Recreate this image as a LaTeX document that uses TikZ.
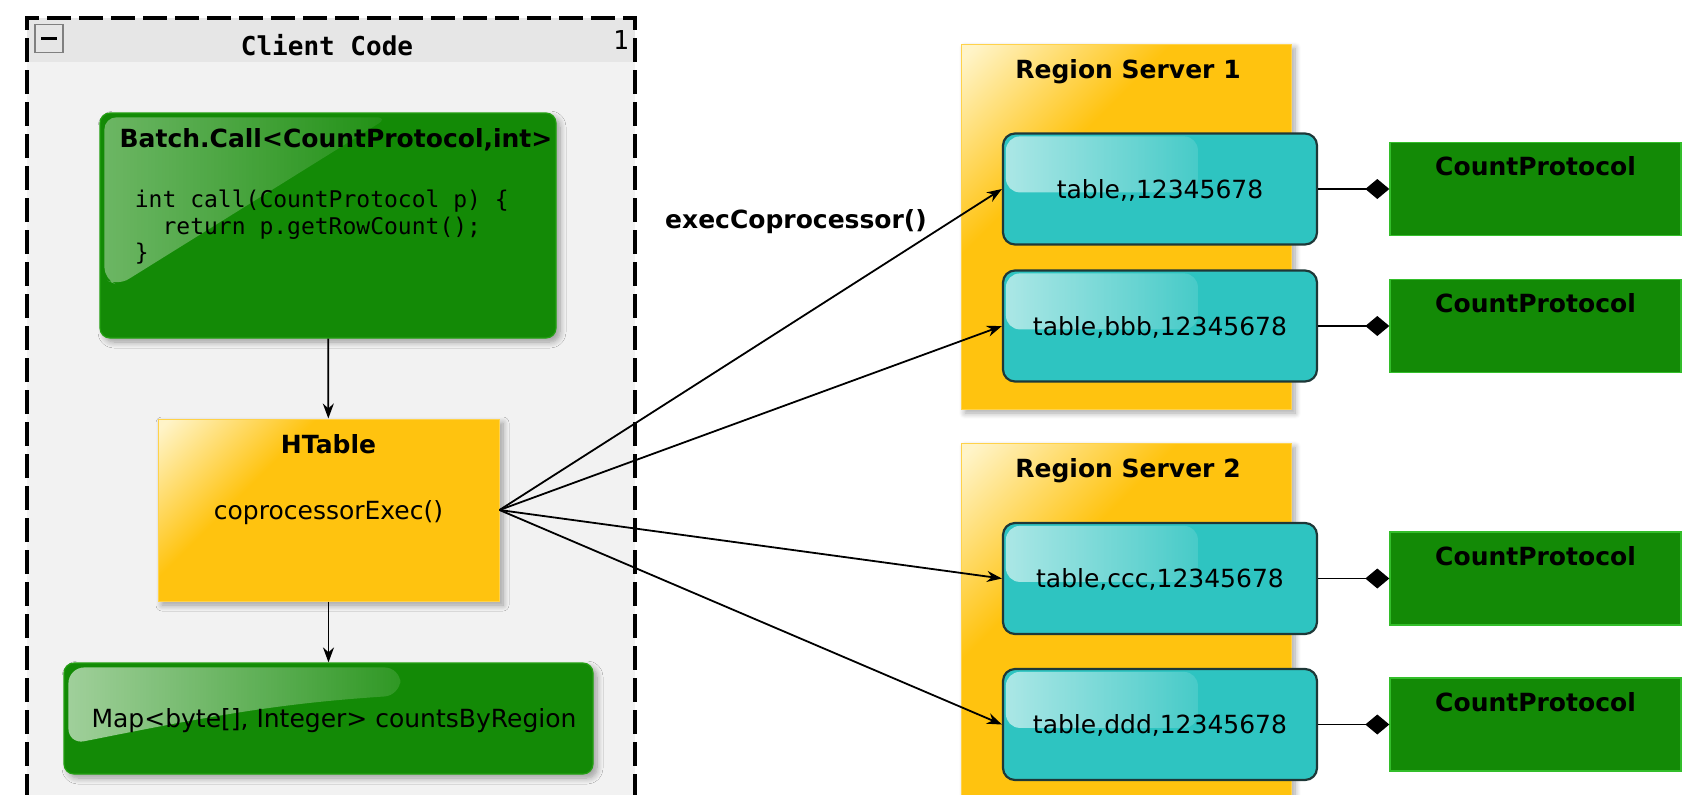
\documentclass[tikz,border=0pt]{standalone}
\usepackage{fontspec}
\setmainfont{DejaVu Sans}
\setmonofont{DejaVu Sans Mono}
\usetikzlibrary{arrows.meta,shadows.blur,fadings}

\definecolor{boxgreen}{HTML}{138A06}
\definecolor{greenedge}{HTML}{23A012}
\definecolor{protoedge}{HTML}{33BE2A}
\definecolor{rsyellow}{HTML}{FFC30F}
\definecolor{paleyellow}{HTML}{FFF4C8}
\definecolor{rsedge}{HTML}{FFD24A}
\definecolor{regcyan}{HTML}{2EC4C1}
\definecolor{cyanedge}{HTML}{1E3838}
\definecolor{framegrey}{HTML}{F2F2F2}
\definecolor{headgrey}{HTML}{E6E6E6}

\pgfdeclareverticalshading{sunglow}{100bp}{color(0bp)=(rsyellow); color(64bp)=(rsyellow); color(84bp)=(paleyellow); color(100bp)=(paleyellow)}
\tikzfading[name=glossfade, left color=transparent!40, right color=transparent!88]
\tikzfading[name=softgloss, left color=transparent!62, right color=transparent!94]

\tikzset{
  every node/.style={font=\fontsize{12.5}{15}\selectfont},
  txt/.style={inner sep=0pt, text height=9.1pt, text depth=0pt},
  bold txt/.style={txt, font=\fontsize{12.5}{15}\selectfont\bfseries},
  shadowed/.style={blur shadow={shadow xshift=2pt, shadow yshift=-2pt, shadow blur radius=3pt,
    shadow blur steps=8, shadow opacity=35}},
  greenbox/.style={shadowed, draw=greenedge, fill=boxgreen, rounded corners=5pt, line width=0.6pt},
  yellowbox/.style={shadowed, draw=rsedge, line width=0.5pt, shading=sunglow, shading angle=45},
  regionbox/.style={txt, draw=cyanedge, fill=regcyan, rounded corners=6pt, line width=1.1pt,
    minimum width=157pt, minimum height=55.5pt},
  protobox/.style={draw=protoedge, fill=boxgreen, line width=0.7pt, minimum width=145.5pt, minimum height=46.5pt},
  gloss/.style={fill=white, path fading=glossfade, draw=none}
}

\begin{document}
\begin{tikzpicture}[x=0.5pt, y=-0.5pt, line width=0.9pt, >={Stealth[length=7.5pt,width=5.5pt]}]
  \useasboundingbox (0,0) rectangle (1706,794);
  \clip (0,0) rectangle (1706,794);

  % client code frame
  \fill[framegrey] (27,18) rectangle (635,830);
  \fill[headgrey] (27,18) rectangle (635,62);
  \draw[line width=1.6pt, dash pattern=on 12pt off 4pt] (27,830) -- (27,18) -- (635,18) -- (635,830);
  \node[draw=gray, line width=0.8pt, minimum size=14pt, inner sep=0pt] (fold) at (49,38.5) {};
  \draw[line width=1.4pt] ([xshift=-4pt]fold.center) -- ([xshift=4pt]fold.center);
  \node[txt, font=\fontsize{13}{15}\selectfont\ttfamily\bfseries] (client) at (327,46) {Client Code};
  \node[txt, font=\fontsize{13}{15}\selectfont\ttfamily] (count) at (621,40) {1};

  \node[greenbox, minimum width=228pt, minimum height=112.5pt] (batch) at (328,225.5) {};
  \fill[gloss, path fading=softgloss, rounded corners=6pt] ([shift={(5,5)}]batch.north west) -- ++(284,0) -- ++(-270,168) -- ++(-14,-6) -- cycle;
  \node[bold txt] (batchtitle) at (336,138) {Batch.Call<CountProtocol,int>};
  \node[anchor=north west, align=left, inner sep=0pt, font=\fontsize{11.5}{13.25}\selectfont\ttfamily]
    (batchcode) at (134,189) {int call(CountProtocol p) \{\\\phantom{xx}return p.getRowCount();\\\}};

  \node[yellowbox, txt, minimum width=170.5pt, minimum height=91pt] (htable) at (328.5,510) {coprocessorExec()};
  \node[bold txt] (htabletitle) at (328.5,444) {HTable};

  \node[greenbox, txt, minimum width=264.5pt, minimum height=55.5pt] (result) at (328.5,718.5) {};
  \fill[gloss, rounded corners=8pt] ([shift={(5,5)}]result.north west) -- ++(332,0) -- ++(0,28)
    .. controls ++(-120,8) and ++(150,-30) .. ([shift={(5,82)}]result.north west) -- cycle;
  \node[txt] (resulttext) at (334,718) {Map<byte[], Integer> countsByRegion};

  \draw[->] (batch) -- (htable);
  \draw[->] (htable) -- (result);

  % region servers
  \node[yellowbox, minimum width=165pt, minimum height=182.5pt] (rs1) at (1126,226.5) {};
  \node[bold txt] (rs1title) at (1128,69) {Region Server 1};
  \node[yellowbox, minimum width=165pt, minimum height=193.5pt] (rs2) at (1126,636.5) {};
  \node[bold txt] (rs2title) at (1128,468) {Region Server 2};

  \foreach \n/\y/\r in {1/189/{table,{},12345678}, 2/326/{table,bbb,12345678},
                        3/578.5/{table,ccc,12345678}, 4/724.5/{table,ddd,12345678}} {
    \node[regionbox] (reg\n) at (1160,\y) {};
    \fill[gloss, rounded corners=7pt] ([shift={(4,4)}]reg\n.north west) rectangle ([shift={(196,60)}]reg\n.north west);
    \node[txt] (regtext\n) at (1160,\y) {\r};
    \node[protobox] (cp\n) at (1535.5,\y) {};
    \node[bold txt] (cptext\n) at (1535.5,\y-22.5) {CountProtocol};
    \draw[-{Diamond[length=12pt,width=10pt]}] (reg\n) -- (cp\n);
    \draw[->] (htable.east) -- (reg\n.west);
  }

  \node[bold txt] (execlbl) at (796,219) {execCoprocessor()};
\end{tikzpicture}
\end{document}
